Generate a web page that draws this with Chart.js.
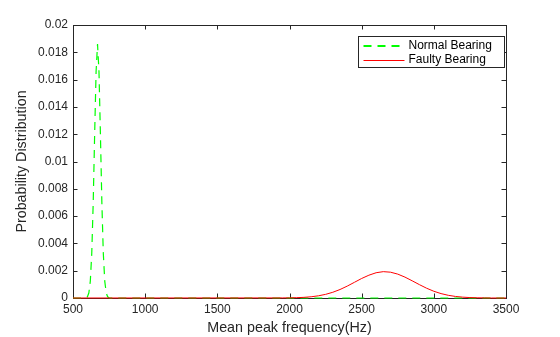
<!DOCTYPE html>
<html>
<head>
<meta charset="utf-8">
<script src="https://cdn.jsdelivr.net/npm/chart.js@4/dist/chart.umd.min.js"></script>
<style>
  html, body { margin: 0; padding: 0; background: #fff; }
</style>
</head>
<body>
<canvas id="pdfChart" width="560" height="337"></canvas>
<script>
"use strict";

// Values
const normalFreq = [500, 580, 590, 600, 610, 620, 630, 640, 650, 660, 670, 680, 690, 700, 710, 720, 730, 740, 750, 760, 3500];
const normalProb = [0, 0, 0.00002, 0.00009, 0.00038, 0.00124, 0.00328, 0.00699, 0.0120, 0.0166, 0.0186,
                    0.0166, 0.0120, 0.00699, 0.00328, 0.00124, 0.00038, 0.00009, 0.00002, 0, 0];

const faultyFreq = [500, 1950, 2000, 2050, 2100, 2150, 2200, 2250, 2300, 2350, 2400, 2450, 2500, 2550, 2600, 2650,
                    2700, 2750, 2800, 2850, 2900, 2950, 3000, 3050, 3100, 3150, 3200, 3250, 3300, 3350, 3400, 3500];
const faultyProb = [0, 0.000005, 0.000011, 0.000024, 0.000048, 0.00009, 0.00016, 0.000266, 0.000419, 0.000622,
                    0.000871, 0.00115, 0.00143, 0.00167, 0.00185, 0.00193, 0.00189, 0.00175, 0.00153, 0.00126,
                    0.000979, 0.000716, 0.000494, 0.000322, 0.000197, 0.000114, 0.000062, 0.000032, 0.0000155,
                    0.000007, 0, 0];

const xTicks = [500, 1000, 1500, 2000, 2500, 3000, 3500];
const yTicks = [0, 0.002, 0.004, 0.006, 0.008, 0.01, 0.012, 0.014, 0.016, 0.018, 0.02];
const seriesNames = ["Normal Bearing", "Faulty Bearing"];

const AXIS_COLOR = "#262626";
const FONT = "'Liberation Sans', Arial, sans-serif";

function toPoints(xs, ys) {
    return xs.map((x, i) => ({ x: x, y: ys[i] }));
}

// Box around the axes plus inward tick marks on all four sides (MATLAB look)
const framePlugin = {
    id: "frame",
    beforeDatasetsDraw(chart) {
        const { ctx, chartArea: a, scales: { x, y } } = chart;
        const len = 4.5;
        ctx.save();
        ctx.strokeStyle = AXIS_COLOR;
        ctx.lineWidth = 1;
        ctx.beginPath();
        xTicks.forEach(v => {
            const px = Math.round(x.getPixelForValue(v)) + 0.5;
            ctx.moveTo(px, a.bottom); ctx.lineTo(px, a.bottom - len);
            ctx.moveTo(px, a.top); ctx.lineTo(px, a.top + len);
        });
        yTicks.forEach(v => {
            const py = Math.round(y.getPixelForValue(v)) + 0.5;
            ctx.moveTo(a.left, py); ctx.lineTo(a.left + len, py);
            ctx.moveTo(a.right, py); ctx.lineTo(a.right - len, py);
        });
        ctx.stroke();
        ctx.strokeRect(Math.round(a.left) + 0.5, Math.round(a.top) + 0.5,
                       Math.round(a.right - a.left), Math.round(a.bottom - a.top));
        ctx.restore();
    }
};

// Boxed legend in the upper right corner
const legendPlugin = {
    id: "boxLegend",
    afterDraw(chart) {
        const { ctx, chartArea: a } = chart;
        const w = 146, h = 31;
        const left = Math.round(a.right - 2 - w) + 0.5;
        const top = Math.round(a.top + 11) + 0.5;
        ctx.save();
        ctx.fillStyle = "#fff";
        ctx.fillRect(left, top, w, h);
        ctx.strokeStyle = AXIS_COLOR;
        ctx.lineWidth = 1;
        ctx.strokeRect(left, top, w, h);
        chart.data.datasets.forEach((ds, i) => {
            const rowY = top + 9 + i * 14.5;
            // dashed sample a bit heavier so it reads like the reference
            const lw = ds.borderDash ? 2 : 1;
            const lineY = lw % 2 ? Math.floor(rowY) + 0.5 : Math.round(rowY);
            ctx.beginPath();
            ctx.strokeStyle = ds.borderColor;
            ctx.lineWidth = lw;
            ctx.setLineDash(ds.borderDash || []);
            ctx.moveTo(left + 5, lineY);
            ctx.lineTo(left + 46, lineY);
            ctx.stroke();
            ctx.setLineDash([]);
            ctx.fillStyle = "#000";
            ctx.font = "12px " + FONT;
            ctx.textBaseline = "middle";
            ctx.fillText(ds.label, left + 50, rowY);
        });
        ctx.restore();
    }
};

const ctx = document.getElementById("pdfChart").getContext("2d");
const pdfChart = new Chart(ctx, {
    type: "line",
    data: {
        datasets: [
            {
                label: seriesNames[0],
                data: toPoints(normalFreq, normalProb),
                borderColor: "#00ff00",
                borderWidth: 1.2,
                borderDash: [8, 6],
                order: 1
            },
            {
                label: seriesNames[1],
                data: toPoints(faultyFreq, faultyProb),
                borderColor: "#ff0000",
                borderWidth: 1,
                order: 0
            }
        ]
    },
    options: {
        responsive: false,
        animation: false,
        devicePixelRatio: 1,
        elements: {
            point: { radius: 0 },
            line: { tension: 0, fill: false }
        },
        datasets: { line: { clip: 4 } },
        layout: { padding: { left: 0, top: 25, right: 54, bottom: 0 } },
        plugins: {
            legend: { display: false },
            tooltip: { enabled: false }
        },
        scales: {
            x: {
                type: "linear",
                min: 500,
                max: 3500,
                afterFit(scale) { scale.height = 39; },
                afterBuildTicks(scale) { scale.ticks = xTicks.map(v => ({ value: v })); },
                grid: { display: false, drawTicks: false },
                border: { display: false },
                ticks: {
                    color: AXIS_COLOR,
                    padding: 4,
                    maxRotation: 0,
                    font: { family: FONT, size: 12 },
                    callback: v => String(v)
                },
                title: {
                    display: true,
                    text: "Mean peak frequency(Hz)",
                    color: AXIS_COLOR,
                    font: { family: FONT, size: 14.3 },
                    padding: { top: 0, bottom: 0 }
                }
            },
            y: {
                type: "linear",
                min: 0,
                max: 0.02,
                afterFit(scale) { scale.width = 73; },
                afterBuildTicks(scale) { scale.ticks = yTicks.map(v => ({ value: v })); },
                grid: { display: false, drawTicks: false },
                border: { display: false },
                ticks: {
                    color: AXIS_COLOR,
                    padding: 5,
                    font: { family: FONT, size: 12 },
                    callback: v => String(Math.round(v * 1000) / 1000)
                },
                title: {
                    display: true,
                    text: "Probability Distribution",
                    color: AXIS_COLOR,
                    font: { family: FONT, size: 14.3 },
                    padding: { top: 13.5, bottom: 0 }
                }
            }
        }
    },
    plugins: [framePlugin, legendPlugin]
});
</script>
</body>
</html>
